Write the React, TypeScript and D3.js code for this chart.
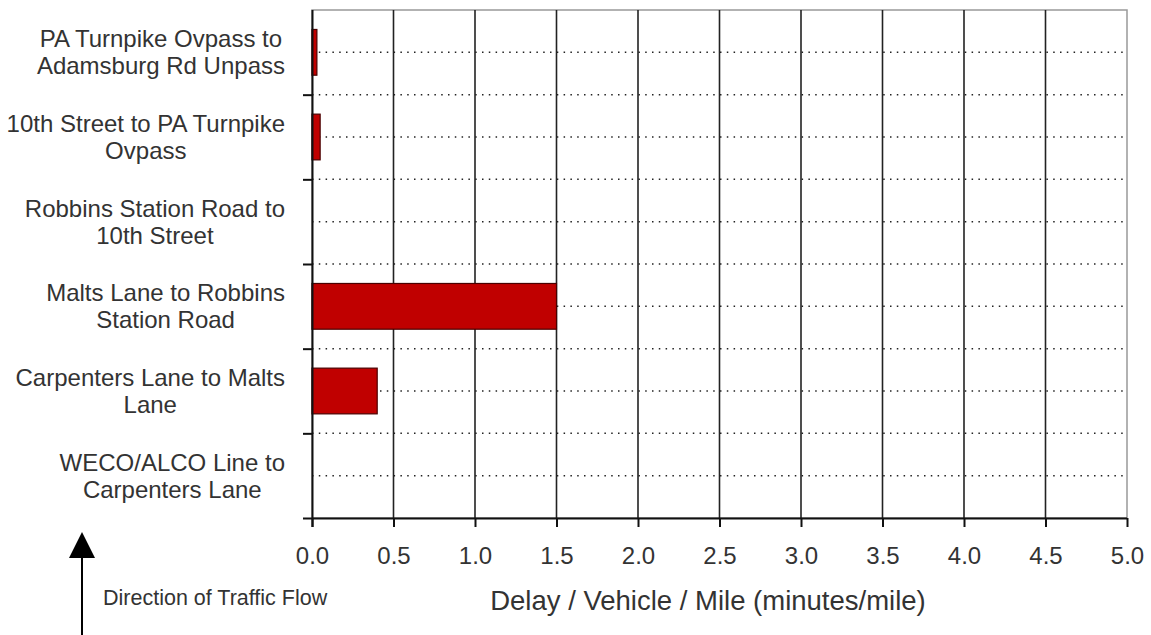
import React, { useEffect, useRef } from 'react';
import * as d3 from 'd3';

// categories top -> bottom, each split into its two printed lines
const segmentLines: string[][] = [
  ['PA Turnpike Ovpass to', 'Adamsburg Rd Unpass'],
  ['10th Street to PA Turnpike', 'Ovpass'],
  ['Robbins Station Road to', '10th Street'],
  ['Malts Lane to Robbins', 'Station Road'],
  ['Carpenters Lane to Malts', 'Lane'],
  ['WECO/ALCO Line to', 'Carpenters Lane'],
];
const delayValues = [0.03, 0.05, 0, 1.5, 0.4, 0];
const xTicks = [0, 0.5, 1, 1.5, 2, 2.5, 3, 3.5, 4, 4.5, 5];
const xTitle = 'Delay / Vehicle / Mile (minutes/mile)';
const flowLabel = 'Direction of Traffic Flow';

const W = 1151;
const H = 635;
const FONT = '"Liberation Sans", Arial, sans-serif';
const TEXT = '#333';

export default function App() {
  const svgRef = useRef<SVGSVGElement>(null);

  useEffect(() => {
    if (!svgRef.current) return;
    const svg = d3.select(svgRef.current);
    svg.selectAll('*').remove();

    const plot = { left: 312, right: 1127, top: 10, bottom: 518 };

    const x = d3.scaleLinear().domain([0, 5]).range([plot.left, plot.right]);
    const keys = segmentLines.map((_, i) => String(i));
    const y = d3
      .scaleBand()
      .domain(keys)
      .range([plot.top, plot.bottom])
      .paddingInner(0.46)
      .paddingOuter(0.23);
    // boundaries between the segments
    const yEdge = d3.scaleLinear().domain([0, segmentLines.length]).range([plot.top, plot.bottom]);

    const g = svg.append('g');

    // plot frame (top / right, grey)
    g.append('rect')
      .attr('x', plot.left)
      .attr('y', plot.top)
      .attr('width', plot.right - plot.left)
      .attr('height', plot.bottom - plot.top)
      .attr('fill', '#fff')
      .attr('stroke', '#999')
      .attr('stroke-width', 1.5);

    // dotted horizontal grid at every half band
    const halfSteps = d3.range(1, segmentLines.length * 2);
    g.selectAll('.hgrid')
      .data(halfSteps)
      .enter()
      .append('line')
      .attr('class', 'hgrid')
      .attr('x1', plot.left)
      .attr('x2', plot.right)
      .attr('y1', (d) => yEdge(d / 2))
      .attr('y2', (d) => yEdge(d / 2))
      .attr('stroke', '#222')
      .attr('stroke-width', 1.5)
      .attr('stroke-dasharray', '1.5,5.3');

    // vertical grid
    g.selectAll('.vgrid')
      .data(xTicks.slice(1, -1))
      .enter()
      .append('line')
      .attr('class', 'vgrid')
      .attr('x1', (d) => x(d))
      .attr('x2', (d) => x(d))
      .attr('y1', plot.top)
      .attr('y2', plot.bottom)
      .attr('stroke', '#222')
      .attr('stroke-width', 1.6);

    // bars
    const barData = delayValues.map((v, i) => ({ key: keys[i], v })).filter((d) => d.v > 0);
    g.selectAll('.bar')
      .data(barData)
      .enter()
      .append('rect')
      .attr('class', 'bar')
      .attr('x', x(0))
      .attr('y', (d) => y(d.key) || 0)
      .attr('width', (d) => x(d.v) - x(0))
      .attr('height', y.bandwidth())
      .attr('fill', '#c00000')
      .attr('stroke', '#4a0000')
      .attr('stroke-width', 1.2);

    // x axis
    const xAxis = g
      .append('g')
      .attr('transform', `translate(0,${plot.bottom})`)
      .call(d3.axisBottom(x).tickValues(xTicks).tickSize(9).tickPadding(20).tickFormat(d3.format('.1f')).tickSizeOuter(0));
    xAxis.select('.domain').attr('stroke', '#111').attr('stroke-width', 2).attr('d', `M${plot.left - 9},0.5H${plot.right}`);
    xAxis.selectAll('.tick line').attr('stroke', '#111').attr('stroke-width', 2);
    xAxis
      .selectAll('.tick text')
      .attr('fill', TEXT)
      .attr('font-family', FONT)
      .attr('font-size', 24)
      .attr('dy', '0.71em');

    // y axis (ticks at segment boundaries)
    const yAxis = g
      .append('g')
      .attr('transform', `translate(${plot.left},0)`)
      .call(d3.axisLeft(yEdge).tickValues(d3.range(0, segmentLines.length)).tickSize(9).tickFormat(() => '').tickSizeOuter(0));
    yAxis.select('.domain').attr('stroke', '#111').attr('stroke-width', 2).attr('d', `M0.5,${plot.top}V${plot.bottom + 9}`);
    yAxis.selectAll('.tick line').attr('stroke', '#111').attr('stroke-width', 2);
    yAxis.selectAll('.tick').filter((d) => d === 0).select('line').remove();

    // category labels: lines centred on each other, block right edge at 285
    segmentLines.forEach((lines, i) => {
      const cy = (y(keys[i]) || 0) + y.bandwidth() / 2;
      const t = g
        .append('text')
        .attr('text-anchor', 'middle')
        .attr('fill', TEXT)
        .attr('font-family', FONT)
        .attr('font-size', 24);
      const spans = lines.map((line, j) =>
        t
          .append('tspan')
          .attr('y', cy + (j === 0 ? -13.5 : 13.5))
          .attr('dy', '0.35em')
          .text(line)
      );
      const maxW = d3.max(spans, (s) => (s.node() as SVGTSpanElement).getComputedTextLength()) || 0;
      spans.forEach((s) => s.attr('x', 285 - maxW / 2));
    });

    // x title
    g.append('text')
      .attr('x', 708)
      .attr('y', 600)
      .attr('dy', '0.35em')
      .attr('text-anchor', 'middle')
      .attr('fill', TEXT)
      .attr('font-family', FONT)
      .attr('font-size', 27.5)
      .text(xTitle);

    // traffic flow arrow + label
    g.append('line')
      .attr('x1', 82)
      .attr('x2', 82)
      .attr('y1', 556)
      .attr('y2', H)
      .attr('stroke', '#000')
      .attr('stroke-width', 2);
    g.append('path')
      .attr('d', 'M82,532L95,558L69,558Z')
      .attr('fill', '#000');
    g.append('text')
      .attr('x', 103)
      .attr('y', 597)
      .attr('dy', '0.35em')
      .attr('fill', TEXT)
      .attr('font-family', FONT)
      .attr('font-size', 21.5)
      .text(flowLabel);

    return () => {
      svg.selectAll('*').remove();
    };
  }, []);

  return (
    <div style={{ position: 'fixed', left: 0, top: 0, width: W, height: H, background: '#fff' }}>
      <svg ref={svgRef} width={W} height={H} style={{ display: 'block' }} />
    </div>
  );
}
